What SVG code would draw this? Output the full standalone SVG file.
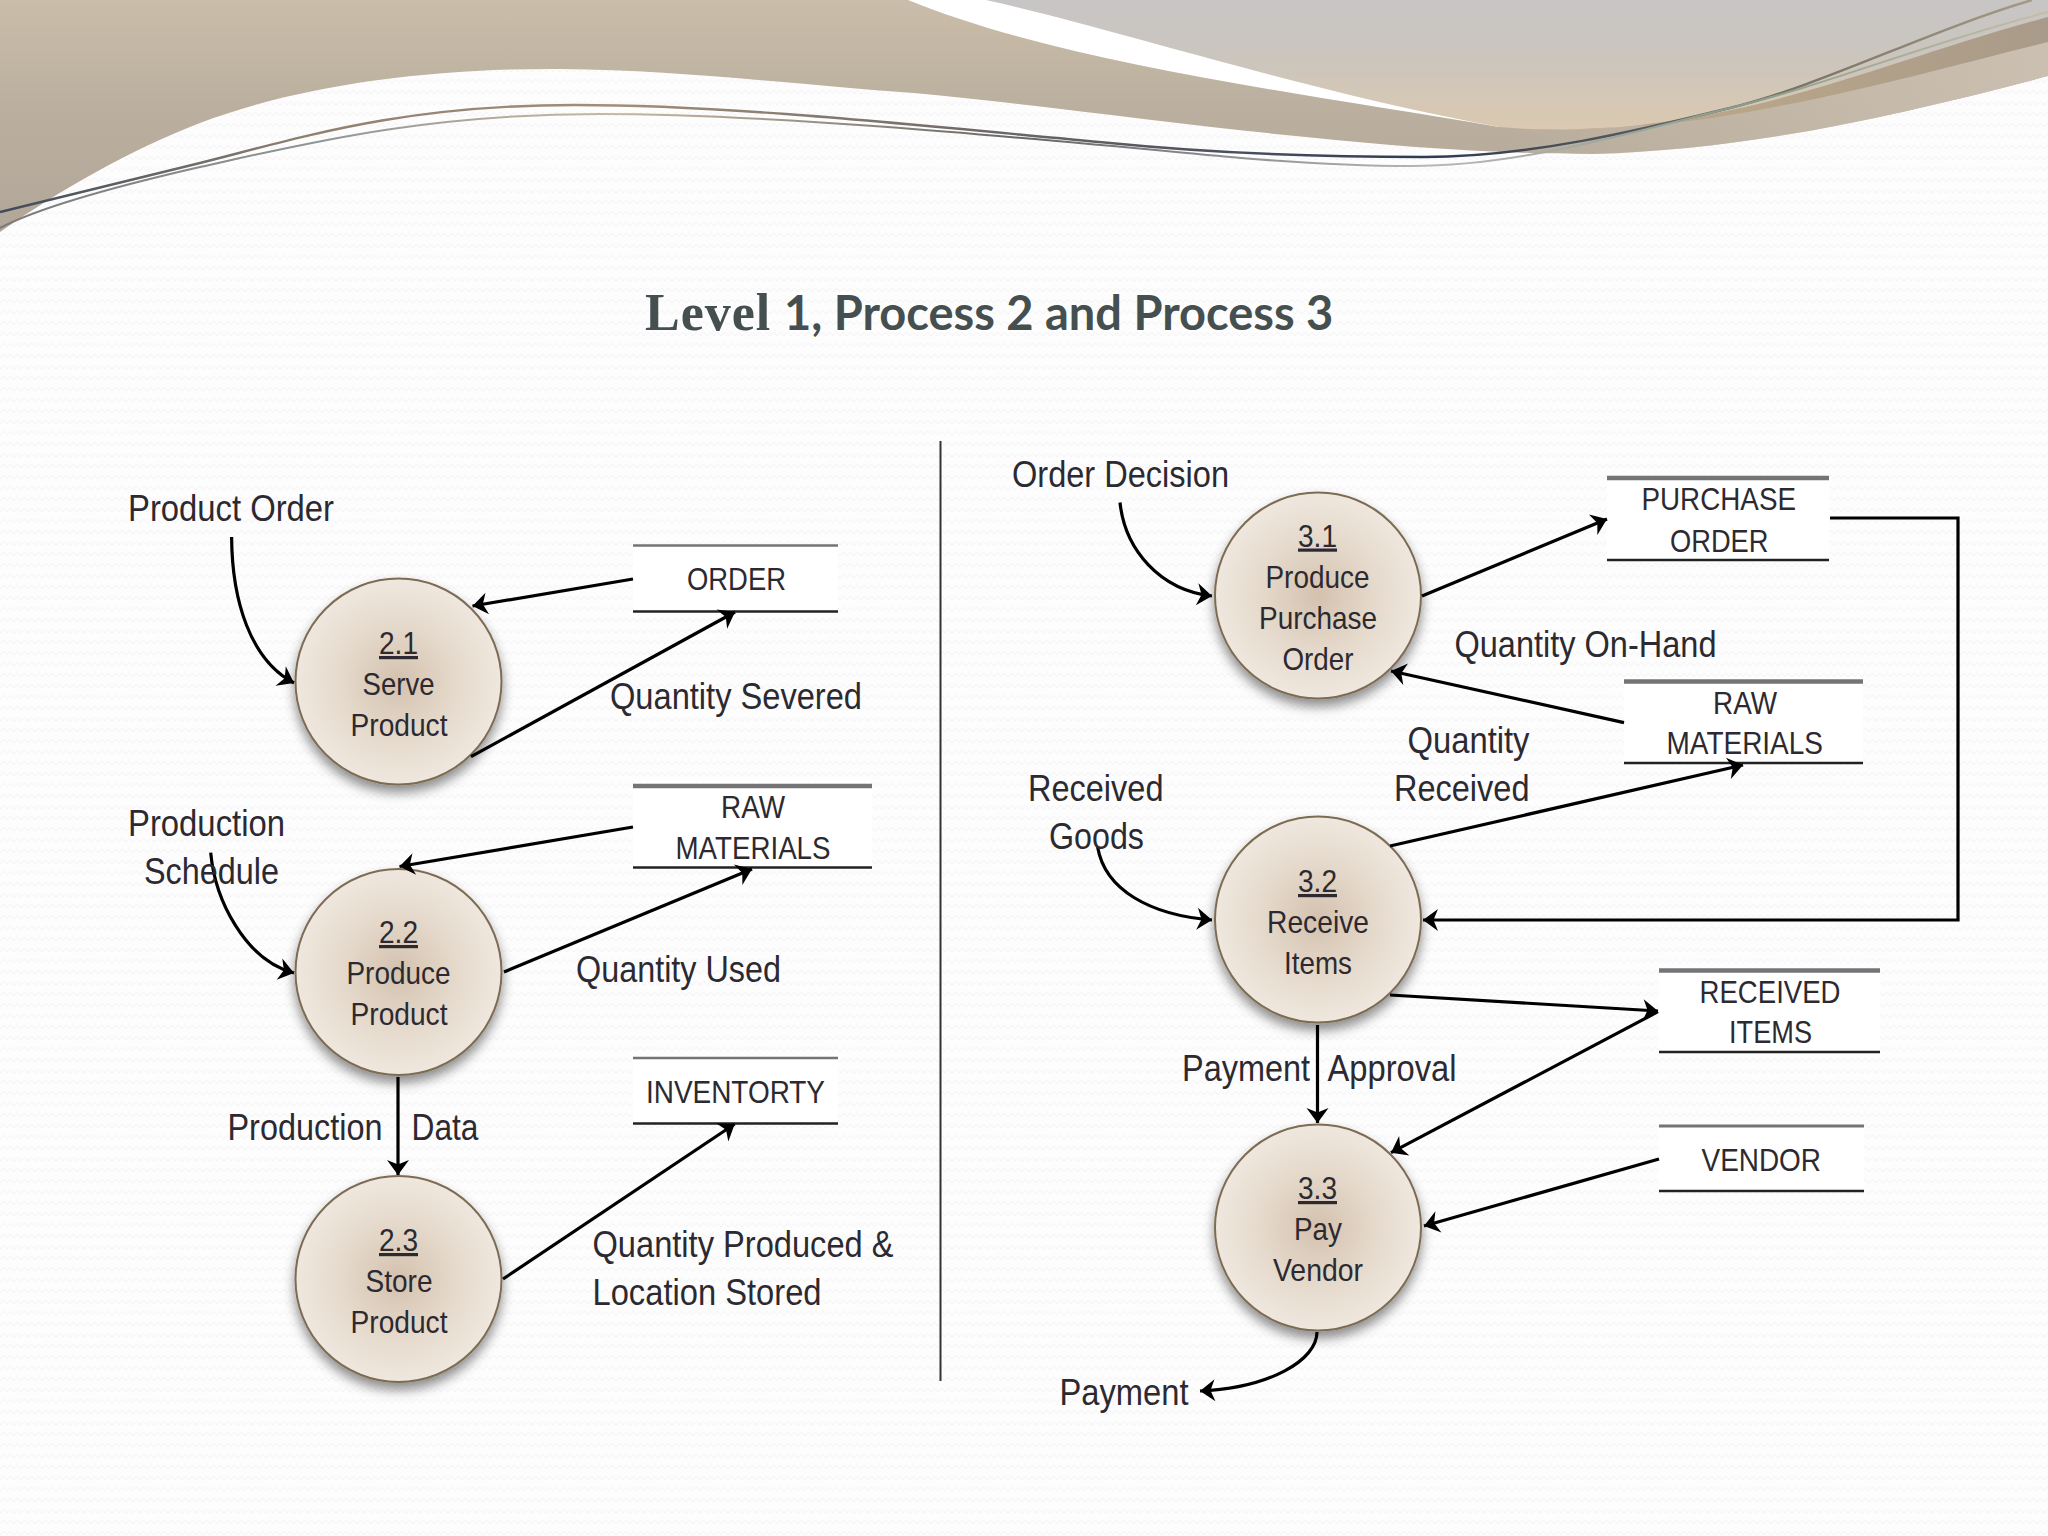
<svg xmlns="http://www.w3.org/2000/svg" width="2048" height="1536" viewBox="0 0 2048 1536">
<style>
.t{font-family:"Liberation Sans",Arial,sans-serif;fill:#2c2a30}
.l{font-size:36px}
.n{font-size:32px}
.s{font-size:31px}
.u{text-decoration:underline}
.c{fill:none;stroke:#000;stroke-width:3.2}
.a{marker-end:url(#arr)}
.bub{fill:url(#bub);stroke:#7d6c52;stroke-width:2;filter:url(#sh)}
.box{fill:#fff}
.top{stroke:#747477;stroke-width:4.5}
.bot{stroke:#222;stroke-width:2.4}
</style>
<defs>
<marker id="arr" markerUnits="userSpaceOnUse" markerWidth="30" markerHeight="30" refX="22" refY="12" orient="auto" overflow="visible"><path d="M7,1 L22,12 L7,23 L11.5,12Z" fill="#000"/></marker>
<radialGradient id="bub" cx="50%" cy="50%" r="52%"><stop offset="0" stop-color="#d4c1ae"/><stop offset=".5" stop-color="#e4d8ca"/><stop offset="1" stop-color="#f0e9e0"/></radialGradient>
<filter id="sh" x="-20%" y="-20%" width="140%" height="145%"><feDropShadow dx="0" dy="7" stdDeviation="6" flood-color="#000" flood-opacity=".45"/></filter>
<linearGradient id="tan" x1="0" y1="0" x2="0" y2="1"><stop offset="0" stop-color="#cabda9"/><stop offset=".45" stop-color="#bbaf9f"/><stop offset="1" stop-color="#b2a699"/></linearGradient>
<linearGradient id="tanr" gradientUnits="userSpaceOnUse" x1="1500" y1="0" x2="2048" y2="0"><stop offset="0" stop-color="#c9bdae" stop-opacity="0"/><stop offset="1" stop-color="#cabfb0"/></linearGradient>
<linearGradient id="gry" gradientUnits="userSpaceOnUse" x1="0" y1="0" x2="0" y2="130"><stop offset="0" stop-color="#c8c5c6"/><stop offset=".45" stop-color="#cbc5bd"/><stop offset="1" stop-color="#dbc9b0"/></linearGradient>
<linearGradient id="bnd" gradientUnits="userSpaceOnUse" x1="1500" y1="0" x2="2048" y2="0"><stop offset="0" stop-color="#bdab8c"/><stop offset=".5" stop-color="#b7a489"/><stop offset="1" stop-color="#a99b89"/></linearGradient>
<linearGradient id="w1" gradientUnits="userSpaceOnUse" x1="0" y1="0" x2="2048" y2="0"><stop offset="0" stop-color="#3d4a5c"/><stop offset=".15" stop-color="#8f8070"/><stop offset=".3" stop-color="#a28e78"/><stop offset=".7" stop-color="#2e3b52"/><stop offset=".85" stop-color="#6d6a60"/><stop offset="1" stop-color="#a79c88"/></linearGradient>
<linearGradient id="w2" gradientUnits="userSpaceOnUse" x1="0" y1="0" x2="2048" y2="0"><stop offset="0" stop-color="#7a7a78"/><stop offset=".15" stop-color="#8e9494"/><stop offset=".3" stop-color="#c8b8a2"/><stop offset=".5" stop-color="#666"/><stop offset=".7" stop-color="#b7b7b7"/><stop offset=".85" stop-color="#8a9c8e"/><stop offset="1" stop-color="#c5bda6"/></linearGradient>
<pattern id="zz" patternUnits="userSpaceOnUse" width="14" height="11"><path d="M0,6 L3.5,2 L7,6 L10.5,2 L14,6" fill="none" stroke="#f3f3f5" stroke-width="1"/></pattern>
</defs>
<g id="background">
<rect width="2048" height="1536" fill="#fdfdfe"/>
<rect width="2048" height="1536" fill="url(#zz)"/>
<path d="M0,232 C60,190 130,150 200,123 C300,85 430,68 562,69 C680,70 800,85 914,93 C1050,106 1180,125 1306,137 C1400,147 1500,154 1593,154 C1750,150 1900,115 2048,76 L2048,0 L0,0Z" fill="url(#tan)"/>
<path d="M1500,151 L1593,154 C1750,150 1900,115 2048,76 L2048,0 L1500,0Z" fill="url(#tanr)"/>
<path d="M908,0 C1060,62 1280,90 1499,127 L1520,110 L1300,0Z" fill="#fff"/>
<path d="M986,0 C1120,30 1300,90 1499,127 C1540,131 1600,131 1648,124 C1800,105 1900,57 2048,17 L2048,0Z" fill="url(#gry)"/>
<path d="M1499,127 C1540,131 1600,131 1648,124 C1800,105 1900,57 2048,17 L2048,42 C1950,66 1850,95 1730,115 C1680,124 1620,128 1565,129.5 C1540,130 1520,129 1499,127Z" fill="url(#bnd)"/>
<path d="M0,212 C70,195 130,180 200,163 C300,138 400,105 575,105 C731,105 914,125 1110,143 C1200,152 1300,157 1424,157 C1530,157 1640,130 1730,108 C1820,86 1930,30 2032,0" fill="none" stroke="url(#w1)" stroke-width="2.4"/>
<path d="M0,228 C40,207 117,186 200,167 C300,145 420,114 600,114 C784,114 1045,140 1241,158 C1290,162 1350,166 1411,166 C1524,166 1640,130 1730,108 C1830,84 1930,42 2048,12" fill="none" stroke="url(#w2)" stroke-width="2"/>
</g>
<text id="title" x="645" y="330" fill="#454f4f" font-weight="700"><tspan font-family="'Liberation Serif',serif" font-size="52" letter-spacing="1">Level </tspan><tspan x="784" font-family="Lato,sans-serif" font-size="47">1, Process 2 and Process 3</tspan></text>
<line id="divider" x1="940.5" y1="441" x2="940.5" y2="1381" stroke="#333" stroke-width="2"/>

<g id="store-order"><rect class="box" x="633" y="545" width="205" height="67"/><line class="top" x1="633" y1="545.5" x2="838" y2="545.5" style="stroke-width:2.4"/><line class="bot" x1="633" y1="611.5" x2="838" y2="611.5"/><text class="t s" x="687" y="590" textLength="99" lengthAdjust="spacingAndGlyphs">ORDER</text></g>
<g id="store-raw-1"><rect class="box" x="633" y="786" width="239" height="82"/><line class="top" x1="633" y1="786" x2="872" y2="786"/><line class="bot" x1="633" y1="867.5" x2="872" y2="867.5"/><text class="t s" x="721" y="818" textLength="64" lengthAdjust="spacingAndGlyphs">RAW</text><text class="t s" x="675.5" y="859" textLength="155" lengthAdjust="spacingAndGlyphs">MATERIALS</text></g>
<g id="store-inventory"><rect class="box" x="633" y="1058" width="205" height="66"/><line class="top" x1="633" y1="1058" x2="838" y2="1058" style="stroke-width:2.4"/><line class="bot" x1="633" y1="1123.5" x2="838" y2="1123.5"/><text class="t s" x="646" y="1103" textLength="179" lengthAdjust="spacingAndGlyphs">INVENTORTY</text></g>
<g id="store-purchase"><rect class="box" x="1607" y="478" width="222" height="82"/><line class="top" x1="1607" y1="478" x2="1829" y2="478"/><line class="bot" x1="1607" y1="560" x2="1829" y2="560"/><text class="t s" x="1641.5" y="510" textLength="154.5" lengthAdjust="spacingAndGlyphs">PURCHASE</text><text class="t s" x="1670" y="551.5" textLength="98.5" lengthAdjust="spacingAndGlyphs">ORDER</text></g>
<g id="store-raw-2"><rect class="box" x="1624" y="681" width="239" height="82"/><line class="top" x1="1624" y1="681.5" x2="1863" y2="681.5"/><line class="bot" x1="1624" y1="763" x2="1863" y2="763"/><text class="t s" x="1713" y="713.5" textLength="64" lengthAdjust="spacingAndGlyphs">RAW</text><text class="t s" x="1666.5" y="754" textLength="156.5" lengthAdjust="spacingAndGlyphs">MATERIALS</text></g>
<g id="store-received"><rect class="box" x="1659" y="970" width="221" height="82"/><line class="top" x1="1659" y1="970.5" x2="1880" y2="970.5"/><line class="bot" x1="1659" y1="1052" x2="1880" y2="1052"/><text class="t s" x="1699.5" y="1002.5" textLength="141" lengthAdjust="spacingAndGlyphs">RECEIVED</text><text class="t s" x="1729" y="1043" textLength="83" lengthAdjust="spacingAndGlyphs">ITEMS</text></g>
<g id="store-vendor"><rect class="box" x="1659" y="1126" width="205" height="65"/><line class="top" x1="1659" y1="1126" x2="1864" y2="1126" style="stroke-width:2.8"/><line class="bot" x1="1659" y1="1191" x2="1864" y2="1191"/><text class="t s" x="1701.5" y="1170.5" textLength="119.5" lengthAdjust="spacingAndGlyphs">VENDOR</text></g>

<g id="node-2-1"><circle class="bub" cx="398.5" cy="681.5" r="103"/><text class="t n u" x="379" y="654" textLength="39" lengthAdjust="spacingAndGlyphs">2.1</text><text class="t n" x="362.5" y="695" textLength="72" lengthAdjust="spacingAndGlyphs">Serve</text><text class="t n" x="350.5" y="736" textLength="97" lengthAdjust="spacingAndGlyphs">Product</text></g>
<g id="node-2-2"><circle class="bub" cx="398.5" cy="972" r="103"/><text class="t n u" x="379" y="943" textLength="39" lengthAdjust="spacingAndGlyphs">2.2</text><text class="t n" x="346.5" y="984" textLength="104" lengthAdjust="spacingAndGlyphs">Produce</text><text class="t n" x="350.5" y="1025" textLength="97" lengthAdjust="spacingAndGlyphs">Product</text></g>
<g id="node-2-3"><circle class="bub" cx="398.5" cy="1279" r="103"/><text class="t n u" x="379" y="1251" textLength="39" lengthAdjust="spacingAndGlyphs">2.3</text><text class="t n" x="365.5" y="1292" textLength="67" lengthAdjust="spacingAndGlyphs">Store</text><text class="t n" x="350.5" y="1333" textLength="97" lengthAdjust="spacingAndGlyphs">Product</text></g>
<g id="node-3-1"><circle class="bub" cx="1318" cy="595.5" r="103"/><text class="t n u" x="1298" y="546.5" textLength="39" lengthAdjust="spacingAndGlyphs">3.1</text><text class="t n" x="1265.5" y="588" textLength="104" lengthAdjust="spacingAndGlyphs">Produce</text><text class="t n" x="1259" y="629" textLength="118" lengthAdjust="spacingAndGlyphs">Purchase</text><text class="t n" x="1282.5" y="670" textLength="71" lengthAdjust="spacingAndGlyphs">Order</text></g>
<g id="node-3-2"><circle class="bub" cx="1318" cy="919.5" r="103"/><text class="t n u" x="1298" y="892" textLength="39" lengthAdjust="spacingAndGlyphs">3.2</text><text class="t n" x="1267" y="932.5" textLength="102" lengthAdjust="spacingAndGlyphs">Receive</text><text class="t n" x="1284" y="973.5" textLength="68" lengthAdjust="spacingAndGlyphs">Items</text></g>
<g id="node-3-3"><circle class="bub" cx="1318" cy="1227.5" r="103"/><text class="t n u" x="1298" y="1199" textLength="39" lengthAdjust="spacingAndGlyphs">3.3</text><text class="t n" x="1294" y="1239.5" textLength="48" lengthAdjust="spacingAndGlyphs">Pay</text><text class="t n" x="1273" y="1281" textLength="90" lengthAdjust="spacingAndGlyphs">Vendor</text></g>

<g id="connectors">
<path class="c a" d="M231.6,537 C232,600 250,660 294,683"/>
<path class="c a" d="M633,579 L472.5,606"/>
<path class="c a" d="M471,756.6 L735,612"/>
<path class="c a" d="M633,827 L399.5,866.5"/>
<path class="c a" d="M210.7,852.6 C215,900 245,960 294,973"/>
<path class="c a" d="M504,972 L752,869"/>
<path class="c a" d="M398,1077 L398,1175"/>
<path class="c a" d="M503,1279 L734.7,1124"/>
<path class="c a" d="M1120,502.5 C1125,550 1160,590 1212,596"/>
<path class="c a" d="M1422,596 L1607,519"/>
<path class="c a" d="M1624,722.6 L1391,671"/>
<path class="c a" d="M1390,846 L1743,765"/>
<path class="c a" d="M1097.6,847 C1105,890 1150,915 1212,920"/>
<path class="c a" d="M1830,518 L1958,518 L1958,920 L1423,920"/>
<path class="c a" d="M1390,995 L1658,1011"/>
<path class="c a" d="M1658,1011.7 L1391,1152.7"/>
<path class="c a" d="M1317.5,1025 L1317.5,1123"/>
<path class="c a" d="M1659,1159 L1424,1226"/>
<path class="c a" d="M1317,1332 C1317,1360 1270,1388 1200,1391"/>
</g>

<g id="labels">
<text class="t l" x="128" y="521" textLength="206" lengthAdjust="spacingAndGlyphs">Product Order</text>
<text class="t l" x="610" y="708.5" textLength="252" lengthAdjust="spacingAndGlyphs">Quantity Severed</text>
<text class="t l" x="128" y="836" textLength="157" lengthAdjust="spacingAndGlyphs">Production</text>
<text class="t l" x="144" y="883.5" textLength="135" lengthAdjust="spacingAndGlyphs">Schedule</text>
<text class="t l" x="576" y="982" textLength="205" lengthAdjust="spacingAndGlyphs">Quantity Used</text>
<text class="t l" x="227.5" y="1140" textLength="155" lengthAdjust="spacingAndGlyphs">Production</text>
<text class="t l" x="411.5" y="1140" textLength="67" lengthAdjust="spacingAndGlyphs">Data</text>
<text class="t l" x="592.5" y="1257" textLength="301" lengthAdjust="spacingAndGlyphs">Quantity Produced &amp;</text>
<text class="t l" x="592.5" y="1305" textLength="229" lengthAdjust="spacingAndGlyphs">Location Stored</text>
<text class="t l" x="1012" y="487" textLength="217" lengthAdjust="spacingAndGlyphs">Order Decision</text>
<text class="t l" x="1454.5" y="657" textLength="262" lengthAdjust="spacingAndGlyphs">Quantity On-Hand</text>
<text class="t l" x="1407.5" y="752.5" textLength="122" lengthAdjust="spacingAndGlyphs">Quantity</text>
<text class="t l" x="1394" y="800.5" textLength="135.5" lengthAdjust="spacingAndGlyphs">Received</text>
<text class="t l" x="1028" y="800.5" textLength="135.5" lengthAdjust="spacingAndGlyphs">Received</text>
<text class="t l" x="1049" y="848.5" textLength="95" lengthAdjust="spacingAndGlyphs">Goods</text>
<text class="t l" x="1182" y="1081" textLength="128" lengthAdjust="spacingAndGlyphs">Payment</text>
<text class="t l" x="1327.5" y="1081" textLength="129" lengthAdjust="spacingAndGlyphs">Approval</text>
<text class="t l" x="1059.5" y="1405" textLength="129" lengthAdjust="spacingAndGlyphs">Payment</text>
</g>
</svg>
